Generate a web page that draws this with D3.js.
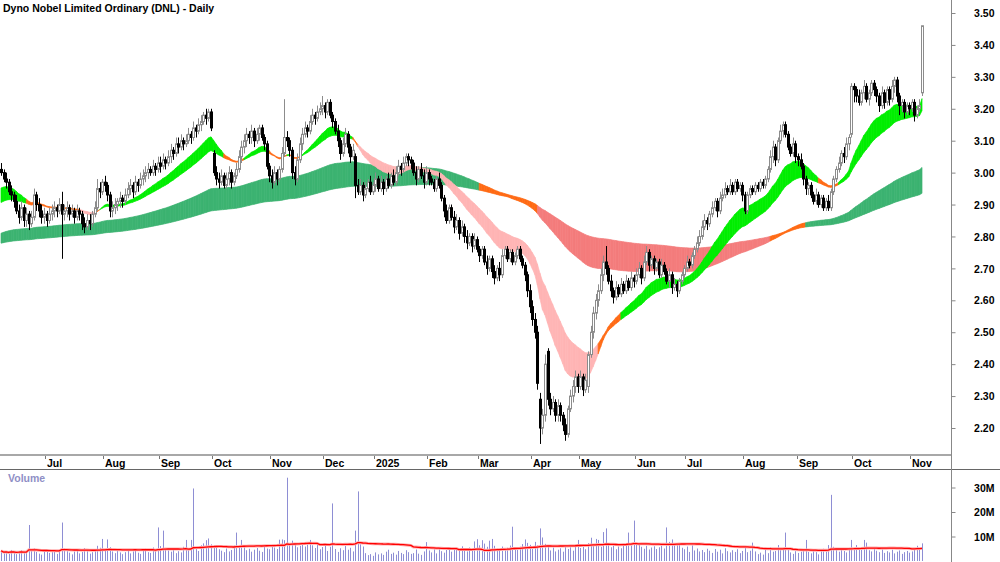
<!DOCTYPE html>
<html>
<head>
<meta charset="utf-8">
<script src="https://cdn.jsdelivr.net/npm/d3@7"></script>
<style>
html,body{margin:0;padding:0;background:#fff;}
#chart{width:1000px;height:562px;}
text{font-family:"Liberation Sans",Arial,sans-serif;font-weight:bold;}
</style>
</head>
<body>
<div id="chart"></div>
<script>
var chartTitle = 'Dyno Nobel Limited Ordinary (DNL) - Daily';

// closes before the first visible bar, only used to start the averages (cents)
var warmupClose = [274,273,275,274,276,275,274,276,275,277,276,275,277,278,277,279,280,279,281,283,
    286,288,287,290,292,291,294,295,294,296,297,296,298,299,298,300,299,301,300,301];

// daily prices in cents, one value per bar
var openPx = [
    301,300,298,297,294,293,291,288,286,289, 285,287,284,286,293,290,288,286,287,285,
    287,288,289,288,290,287,288,289,287,288, 286,288,287,284,283,285,284,287,289,295,
    294,297,296,293,288,289,290,291,292,291, 293,295,296,294,297,296,298,299,300,301,
    300,302,301,303,302,304,303,305,307,306, 309,308,310,309,310,312,311,314,313,315,
    316,318,317,319,306,300,298,297,299,296, 298,300,297,299,301,305,308,310,312,311,
    313,310,312,314,311,309,302,299,297,300, 298,301,306,311,310,307,300,298,304,309,
    312,314,313,316,318,317,319,320,321,319, 322,318,316,313,310,306,309,312,308,305,
    305,296,294,296,293,295,297,294,296,298, 295,297,295,298,296,299,297,300,302,301,
    303,305,304,303,300,298,301,299,297,300, 298,297,295,298,296,292,288,285,289,286,
    283,285,281,283,280,278,280,277,279,276, 274,276,272,270,273,269,267,270,268,274,
    276,273,275,272,274,276,273,271,268,263, 258,254,250,229,220,224,244,229,226,228,
    224,227,224,221,218,226,230,233,236,233, 236,232,233,243,250,256,260,263,268,272,
    270,266,263,261,264,262,265,263,266,264, 267,266,268,270,267,272,275,271,273,270,
    272,268,271,269,266,268,264,265,263,266, 268,270,272,271,274,276,278,280,283,285,
    284,287,289,291,288,292,293,295,294,296, 294,297,295,296,293,288,293,295,294,296,
    295,297,296,298,301,305,308,304,310,313, 315,312,308,306,309,305,304,302,298,295,
    296,293,291,293,290,292,289,291,289,294, 298,301,303,306,305,309,312,327,326,324,
    322,325,327,323,325,328,326,324,321,325, 322,326,323,327,329,324,321,322,319,321,
    320,322,318,320,325];
var highPx = [
    303,301,300,298,296,294,293,290,291,290, 289,288,288,295,294,292,290,289,288,289,
    290,291,290,292,294,290,291,290,290,289, 290,289,288,286,287,287,288,291,298,297,
    298,299,297,294,291,292,292,294,293,295, 297,298,297,299,298,300,301,302,303,302,
    304,303,305,305,306,305,307,309,308,311, 311,312,311,312,314,313,316,315,317,318,
    319,320,320,320,307,302,300,301,300,300, 302,301,300,303,307,310,312,314,313,315,
    314,314,315,315,312,310,303,301,302,301, 302,308,323,313,311,308,302,306,311,314,
    316,315,318,320,319,321,322,324,322,323, 323,319,317,315,311,311,314,313,309,309,
    306,298,298,297,297,298,299,297,300,299, 299,298,299,300,300,301,302,304,303,305,
    306,306,305,304,302,302,303,301,302,301, 299,298,299,300,297,293,290,290,290,288,
    287,286,285,284,282,281,281,281,280,277, 277,277,274,274,274,271,271,272,276,277,
    277,276,276,275,277,277,274,272,269,265, 260,256,252,231,226,243,245,231,230,229,
    229,228,225,223,227,232,235,238,237,238, 237,237,244,252,258,262,265,270,274,277,
    271,268,264,266,265,267,266,268,267,269, 268,270,272,271,274,277,276,274,274,273,
    273,273,272,270,270,269,267,266,267,269, 271,274,273,275,277,280,282,285,287,286,
    288,291,292,292,294,295,297,296,298,297, 298,298,297,297,294,294,296,296,297,297,
    298,298,299,302,307,310,309,311,315,316, 316,313,309,311,310,306,306,303,299,297,
    297,294,295,294,293,293,292,293,295,299, 302,305,307,308,311,312,328,328,327,326,
    326,329,328,326,329,329,327,325,327,326, 327,327,329,330,330,325,323,323,322,322,
    323,323,321,323,346];
var lowPx = [
    299,297,295,293,291,289,287,284,285,283, 283,282,283,285,288,286,284,284,283,284,
    285,286,286,287,273,285,286,285,286,284, 285,285,282,281,282,282,283,286,288,292,
    293,294,291,286,286,287,288,289,289,290, 292,293,292,293,294,295,296,297,298,299,
    299,299,300,300,301,301,302,303,304,305, 306,307,307,308,309,309,310,311,312,313,
    315,315,316,313,299,296,295,296,295,295, 296,295,296,298,300,303,306,308,309,309,
    308,309,310,310,307,301,297,295,296,296, 297,300,305,308,305,298,296,297,303,307,
    311,311,312,315,315,316,318,318,317,318, 317,314,312,308,304,305,308,306,303,304,
    292,293,293,291,292,294,293,293,294,294, 294,293,294,295,295,296,296,299,299,300,
    302,302,301,299,296,297,298,295,296,296, 296,294,294,295,291,286,284,284,285,281,
    282,279,280,278,276,277,275,276,275,272, 273,271,268,269,267,265,266,266,267,273,
    272,272,271,271,273,272,270,266,261,256, 252,248,232,215,218,222,227,224,225,222,
    222,222,219,216,217,225,228,231,231,232, 230,231,231,242,248,254,258,262,266,268,
    265,261,259,260,261,261,262,262,263,263, 264,265,267,265,266,271,269,270,268,269,
    267,267,268,265,264,262,263,261,262,265, 267,269,270,270,273,275,277,279,282,282,
    283,286,288,286,287,291,292,293,293,293, 293,294,294,291,287,287,292,293,293,294,
    294,295,295,297,300,303,302,303,309,311, 311,307,305,305,303,302,301,296,293,293,
    292,290,290,289,289,288,288,288,288,293, 297,300,302,303,304,307,311,322,322,321,
    321,323,322,321,324,324,322,319,320,320, 321,321,322,325,322,318,319,317,318,318,
    319,316,317,319,324];
var closePx = [
    300,298,297,294,293,291,288,286,289,285, 287,284,286,293,290,288,286,287,285,287,
    288,289,288,290,287,288,289,287,288,286, 288,287,284,283,285,284,287,289,295,294,
    297,296,293,288,289,290,291,292,291,293, 295,296,294,297,296,298,299,300,301,300,
    302,301,303,302,304,303,305,307,306,309, 308,310,309,310,312,311,314,313,315,316,
    318,317,319,314,300,298,297,299,296,298, 300,297,299,301,305,308,310,312,311,313,
    310,312,314,311,309,302,299,297,300,298, 301,306,311,310,307,300,298,304,309,312,
    314,313,316,318,317,319,320,321,319,322, 318,316,313,310,306,309,312,308,305,307,
    296,294,296,293,295,297,294,296,298,295, 297,295,298,296,299,297,300,302,301,303,
    305,304,303,300,298,301,299,297,300,298, 297,295,298,296,292,288,285,289,286,283,
    285,281,283,280,278,280,277,279,276,274, 276,272,270,273,269,267,270,268,274,276,
    273,275,272,274,276,273,271,268,263,258, 254,250,234,220,224,240,229,226,228,224,
    227,224,221,218,226,230,233,236,233,236, 232,235,243,250,256,260,263,268,272,270,
    266,263,261,264,262,265,263,266,264,267, 266,268,270,267,272,275,271,273,270,272,
    268,271,269,266,268,264,265,263,266,268, 270,272,271,274,276,278,280,283,285,284,
    287,289,291,288,292,293,295,294,296,294, 297,295,296,293,288,293,295,294,296,295,
    297,296,298,301,305,308,304,310,313,315, 312,308,306,309,305,304,302,298,295,296,
    293,291,293,290,292,289,291,289,294,298, 301,303,306,305,309,311,327,326,324,322,
    325,327,323,325,328,326,324,321,325,322, 326,323,327,329,324,321,322,319,321,320,
    322,318,320,321,346];
// volume in millions of shares
var volumeM = [
    4.2,3.1,3.8,2.9,4.5,3.6,2.8,3.9,4.4,3.2, 3.5,14.7,4.1,5.2,3.7,3.0,2.6,3.9,4.8,3.3,
    3.6,4.2,2.9,3.8,15.7,5.1,4.0,3.4,2.7,3.9, 4.6,3.1,3.7,5.3,4.2,3.0,3.6,4.9,6.2,5.4,
    9.0,4.7,8.8,5.6,3.9,3.2,4.1,3.5,2.8,3.6, 4.3,3.1,3.9,4.6,3.4,2.9,4.2,5.0,3.6,3.3,
    5.5,4.8,13.7,6.1,12.4,5.2,4.3,3.8,4.6,3.2, 4.0,3.5,5.8,8.6,4.9,8.6,29.6,5.3,4.1,6.4,
    7.2,8.5,9.2,6.8,6.5,5.9,4.8,4.2,3.6,5.1, 3.9,4.5,6.3,11.6,5.8,8.6,6.1,4.4,5.0,3.8,
    4.6,5.3,4.2,3.7,6.0,5.1,4.8,6.6,5.5,4.9, 8.7,8.8,8.5,34.0,6.9,8.3,7.1,5.6,6.2,7.4,
    5.9,6.8,8.6,6.4,5.3,7.0,4.8,5.7,6.3,4.1, 5.8,23.5,4.9,3.7,5.2,4.4,6.1,4.6,5.4,3.9,
    12.4,28.4,6.8,5.9,3.2,2.4,2.8,2.1,3.5,2.7, 3.1,2.5,3.8,4.6,2.9,3.4,2.6,4.1,3.3,2.8,
    4.4,3.6,2.9,3.2,4.7,3.0,2.5,3.9,7.7,4.3, 3.5,4.8,3.1,5.2,4.0,3.4,5.6,4.5,3.8,4.9,
    5.3,4.1,6.0,4.6,3.9,5.5,4.2,8.0,8.9,6.4, 8.5,7.1,5.8,8.3,9.0,6.2,5.1,4.7,5.9,4.6,
    5.4,6.3,14.0,5.1,4.5,5.8,6.9,8.8,7.4,6.6, 5.2,7.8,6.4,13.3,9.6,7.0,5.7,4.3,5.5,3.9,
    4.6,5.2,3.8,6.1,4.9,5.6,4.2,6.7,8.6,5.3, 6.0,4.8,7.3,9.5,6.9,9.0,8.6,5.8,11.8,13.3,
    7.2,5.6,6.4,4.8,5.9,5.2,6.6,7.0,11.6,6.3, 16.5,7.4,7.1,5.8,5.0,6.2,4.7,5.5,6.0,4.9,
    5.6,6.3,5.1,13.7,7.8,8.8,6.5,7.2,6.9,5.4, 4.8,5.9,3.7,6.4,4.3,5.1,3.9,4.5,3.6,5.0,
    4.2,3.3,4.9,3.8,4.6,3.1,5.2,4.0,3.5,4.4, 3.7,4.8,3.2,4.1,5.3,3.6,4.2,7.5,3.9,2.8,
    3.4,2.6,4.5,3.2,5.6,3.8,4.1,6.5,4.4,5.2, 11.6,4.7,3.5,2.9,4.0,3.3,3.8,4.6,8.6,3.7,
    3.1,4.2,3.6,2.7,4.4,5.0,3.9,6.5,27.0,5.8, 4.6,3.8,4.9,4.1,3.5,4.7,8.6,5.2,6.5,4.8,
    5.6,8.6,7.5,4.4,3.9,5.1,4.2,3.6,4.8,3.3, 4.0,3.5,4.6,3.1,3.8,4.3,2.9,3.6,4.1,3.4,
    3.9,4.5,6.2,4.8,7.2];

// first bar of each month on the date strip
var monthIndex = [18,41,63,84,107,128,148,169,189,210,229,251,271,294,315,337,360];
var monthLabel = ['Jul','Aug','Sep','Oct','Nov','Dec','2025','Feb','Mar','Apr','May','Jun','Jul','Aug','Sep','Oct','Nov'];
var priceTicks = [3.50,3.40,3.30,3.20,3.10,3.00,2.90,2.80,2.70,2.60,2.50,2.40,2.30,2.20];
var volumeTicks = [10,20,30];
var shortPeriods = [20,23,26,29,32,35];
var longPeriods = [120,140,160,180,205,235];
var volumeAvgPeriod = 50;

function RibbonChart(config){
    this.config = config;
    this.$svg = d3.select(config.$el).append('svg')
        .attr('width', config.width)
        .attr('height', config.height);
    this.x = d3.scaleLinear().domain([0, closePx.length-1]).range([1, 922]);
    this.y = d3.scaleLinear().domain([2.20, 3.50]).range([428, 13]);
    this.v = d3.scaleLinear().domain([0, 30]).range([561, 487.5]);
    this.drawTitle()
        .drawRibbon(longPeriods, {up:'#3cb371', down:'#f47c7c', mixed:'#ff6a14'})
        .drawRibbon(shortPeriods, {up:'#00ee00', down:'#ffb5b5', mixed:'#ff6a14'})
        .drawCandles()
        .drawVolume()
        .drawAxes();
}

/**
 * exponential averages of the closes, warm-up bars dropped
 */
RibbonChart.prototype.ema = function(period){
    var all = warmupClose.concat(closePx);
    var k = 2/(period+1);
    var out = [];
    var v = all[0]/100;
    for(var i=0; i<all.length; i++){
        v = i===0 ? all[0]/100 : (all[i]/100)*k + v*(1-k);
        if(i >= warmupClose.length) out.push(v);
    }
    return out;
};

/**
 * ribbon band, coloured by the order of its averages
 */
RibbonChart.prototype.drawRibbon = function(periods, colors){
    var self = this;
    var lines = periods.map(function(p){ return self.ema(p); });
    var $g = this.$svg.append('g');
    for(var i=1; i<closePx.length; i++){
        var up = true, down = true;
        for(var j=0; j<lines.length-1; j++){
            if(lines[j][i] <= lines[j+1][i]) up = false;
            if(lines[j][i] >= lines[j+1][i]) down = false;
        }
        var color = up ? colors.up : (down ? colors.down : colors.mixed);
        var t0 = d3.max(lines, function(l){ return l[i-1]; });
        var b0 = d3.min(lines, function(l){ return l[i-1]; });
        var t1 = d3.max(lines, function(l){ return l[i]; });
        var b1 = d3.min(lines, function(l){ return l[i]; });
        var x0 = this.x(i-1), x1 = this.x(i);
        $g.append('path')
            .attr('d', 'M'+x0+','+this.y(t0)+'L'+x1+','+this.y(t1)+'L'+x1+','+this.y(b1)+'L'+x0+','+this.y(b0)+'Z')
            .style('fill', color)
            .style('stroke', color)
            .style('stroke-width', 0.7);
    }
    return this;
};

/**
 * candles: hollow grey up, black down
 */
RibbonChart.prototype.drawCandles = function(){
    var $g = this.$svg.append('g');
    for(var i=0; i<closePx.length; i++){
        var c = Math.round(this.x(i));
        var o = openPx[i]/100, cl = closePx[i]/100;
        var rising = cl >= o;
        var color = rising ? '#8c8c8c' : '#000';
        $g.append('line')
            .attr('x1', c+0.5).attr('x2', c+0.5)
            .attr('y1', this.y(highPx[i]/100)).attr('y2', this.y(lowPx[i]/100))
            .style('stroke', color);
        var top = this.y(Math.max(o, cl));
        var h = Math.max(1, this.y(Math.min(o, cl)) - top);
        $g.append('rect')
            .attr('x', c-0.5).attr('width', 2)
            .attr('y', top).attr('height', h)
            .style('fill', rising ? '#fff' : '#000')
            .style('stroke', color);
    }
    return this;
};

/**
 * volume bars and their average
 */
RibbonChart.prototype.drawVolume = function(){
    var self = this;
    var $g = this.$svg.append('g');
    for(var i=0; i<volumeM.length; i++){
        var c = Math.round(this.x(i)) + 0.5;
        $g.append('line')
            .attr('x1', c).attr('x2', c)
            .attr('y1', this.v(0)).attr('y2', this.v(volumeM[i]))
            .style('stroke', '#8e8ed4');
    }
    var avg = volumeM.map(function(d, i){
        return d3.mean(volumeM.slice(Math.max(0, i-volumeAvgPeriod+1), i+1));
    });
    var line = d3.line()
        .x(function(d, i){ return self.x(i); })
        .y(function(d){ return self.v(d); });
    $g.append('path').attr('d', line(avg))
        .style('fill', 'none').style('stroke', '#ffb0b0').style('stroke-width', 3);
    $g.append('path').attr('d', line(avg))
        .style('fill', 'none').style('stroke', '#ff0000').style('stroke-width', 1.3);
    $g.append('text').attr('x', 8).attr('y', 482)
        .style('font-size', '10.5px').style('fill', '#8f8fc6')
        .text('Volume');
    return this;
};

/**
 * title
 */
RibbonChart.prototype.drawTitle = function(){
    this.$svg.append('text').attr('x', 3).attr('y', 12)
        .style('font-size', '10.5px').style('fill', '#000')
        .text(chartTitle);
    return this;
};

/**
 * date strip and right-hand scales
 */
RibbonChart.prototype.drawAxes = function(){
    var $svg = this.$svg;
    var axisX = 951.5;

    // date strip
    $svg.append('line').attr('x1', 0).attr('x2', axisX).attr('y1', 455).attr('y2', 455)
        .style('stroke', '#a8a8a8').style('stroke-width', 2);
    $svg.append('line').attr('x1', 0).attr('x2', 1000).attr('y1', 469.5).attr('y2', 469.5)
        .style('stroke', '#666');
    for(var i=0; i<monthIndex.length; i++){
        var tx = Math.round(this.x(monthIndex[i]) - 1.5) + 0.5;
        $svg.append('line').attr('x1', tx).attr('x2', tx).attr('y1', 456).attr('y2', 459)
            .style('stroke', '#777');
        $svg.append('text').attr('x', tx+1.5).attr('y', 467)
            .style('font-size', '10.5px').style('fill', '#000')
            .text(monthLabel[i]);
    }

    // price scale
    var axisY = d3.axisRight(this.y).tickValues(priceTicks).tickSize(4).tickFormat(d3.format('.2f'));
    var $ay = $svg.append('g').attr('transform', 'translate('+axisX+',0)').call(axisY);
    $ay.select('.domain').remove();
    $ay.selectAll('line').style('stroke', '#888');
    $ay.selectAll('text').attr('x', 43).attr('dy', '0.35em')
        .style('text-anchor', 'end').style('font-size', '10.5px').style('fill', '#000')
        .style('font-family', '"Liberation Sans",Arial,sans-serif').style('font-weight', 'bold');

    // volume scale
    var axisV = d3.axisRight(this.v).tickValues(volumeTicks).tickSize(4).tickFormat(function(d){ return d+'M'; });
    var $av = $svg.append('g').attr('transform', 'translate('+axisX+',0)').call(axisV);
    $av.select('.domain').remove();
    $av.selectAll('line').style('stroke', '#888');
    $av.selectAll('text').attr('x', 43).attr('dy', '0.35em')
        .style('text-anchor', 'end').style('font-size', '10.5px').style('fill', '#000')
        .style('font-family', '"Liberation Sans",Arial,sans-serif').style('font-weight', 'bold');

    $svg.append('line').attr('x1', axisX).attr('x2', axisX).attr('y1', 0).attr('y2', 562)
        .style('stroke', '#888');
    return this;
};

new RibbonChart({$el: document.getElementById('chart'), width: 1000, height: 562});
</script>
</body>
</html>
